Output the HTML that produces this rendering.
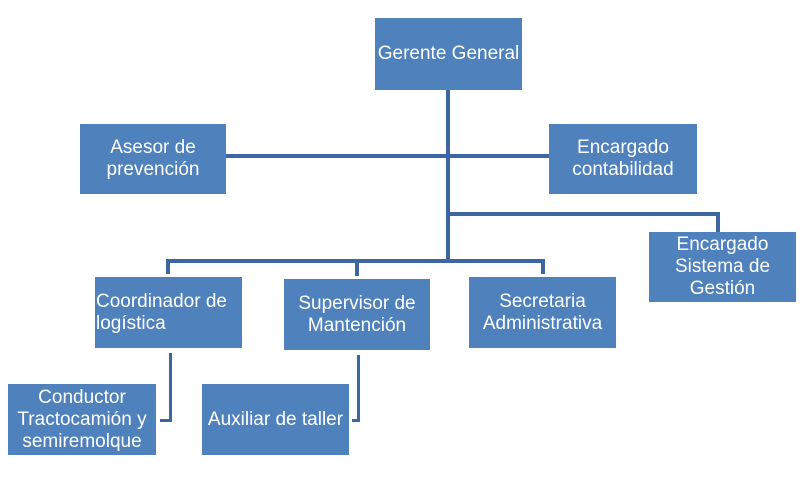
<!DOCTYPE html>
<html><head><meta charset="utf-8"><style>
body{margin:0;width:800px;height:480px;background:#fff;position:relative;overflow:hidden;font-family:"Liberation Sans",sans-serif}
.b{position:absolute;background:#4f81bd;color:#fff;font-size:19px;line-height:22px;display:flex;align-items:center;justify-content:center;text-align:center;box-sizing:border-box;white-space:nowrap}
.l{position:absolute;background:#3d67a0}
</style></head><body>
<div class="l" style="left:446px;top:90px;width:4px;height:173px"></div>
<div class="l" style="left:226px;top:154px;width:323px;height:4px"></div>
<div class="l" style="left:446px;top:212px;width:274px;height:4px"></div>
<div class="l" style="left:716px;top:212px;width:4px;height:20px"></div>
<div class="l" style="left:166px;top:259px;width:284px;height:4px"></div>
<div class="l" style="left:166px;top:259px;width:4px;height:15px"></div>
<div class="l" style="left:355px;top:259px;width:4px;height:17px"></div>
<div class="l" style="left:446px;top:259px;width:99px;height:4px"></div>
<div class="l" style="left:541px;top:259px;width:4px;height:15px"></div>
<div class="l" style="left:169px;top:353px;width:3px;height:69px"></div>
<div class="l" style="left:160px;top:419px;width:12px;height:3px"></div>
<div class="l" style="left:357px;top:355px;width:3px;height:67px"></div>
<div class="l" style="left:352px;top:419px;width:8px;height:3px"></div>
<div class="b" style="left:375px;top:18px;width:147px;height:72px">Gerente General</div>
<div class="b" style="left:80px;top:124px;width:146px;height:70px">Asesor de<br>prevención</div>
<div class="b" style="left:549px;top:124px;width:148px;height:70px">Encargado<br>contabilidad</div>
<div class="b" style="left:649px;top:232px;width:147px;height:70px">Encargado<br>Sistema de<br>Gestión</div>
<div class="b" style="left:95px;top:277px;width:147px;height:71px;justify-content:flex-start;text-align:left;padding-left:1px">Coordinador de<br>logística</div>
<div class="b" style="left:284px;top:279px;width:146px;height:71px">Supervisor de<br>Mantención</div>
<div class="b" style="left:469px;top:277px;width:147px;height:71px">Secretaria<br>Administrativa</div>
<div class="b" style="left:8px;top:384px;width:148px;height:71px">Conductor<br>Tractocamión y<br>semiremolque</div>
<div class="b" style="left:202px;top:384px;width:147px;height:71px">Auxiliar de taller</div>
</body></html>
